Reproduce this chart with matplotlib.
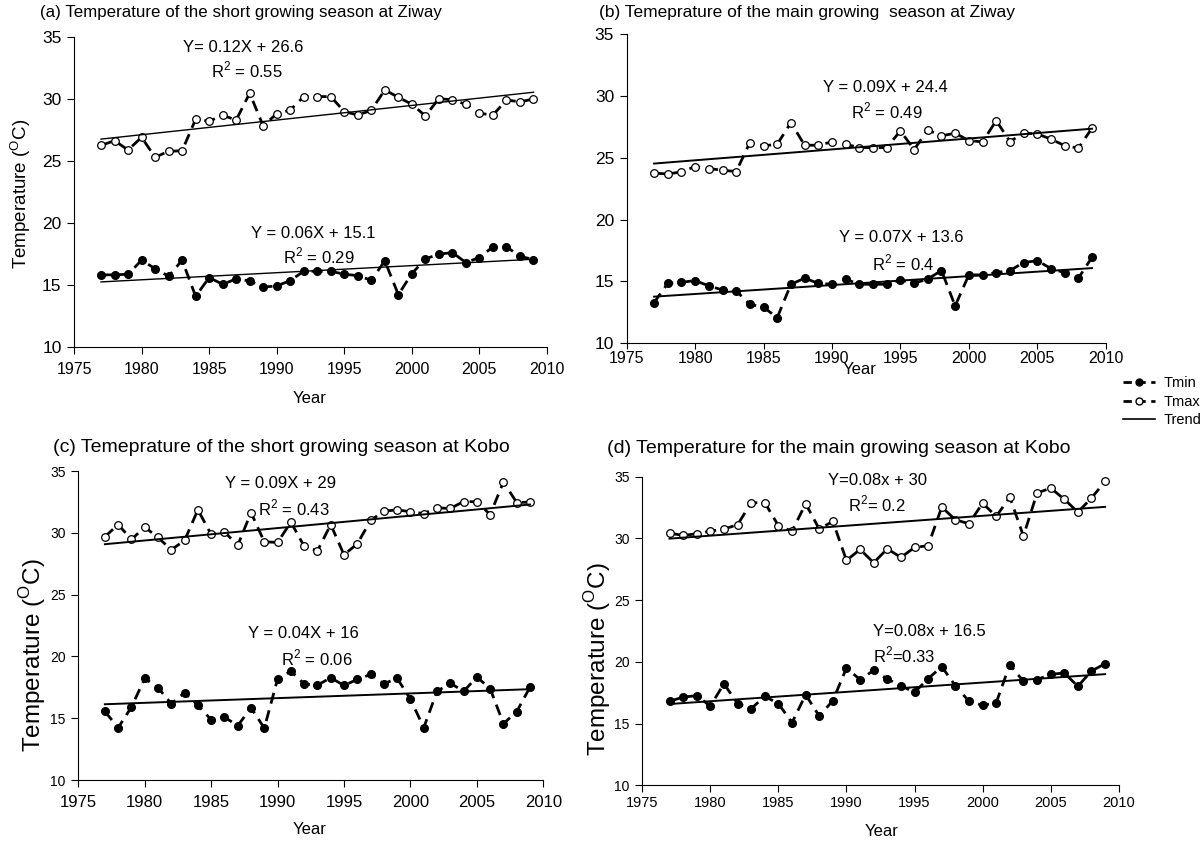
import matplotlib
matplotlib.use("Agg")
import matplotlib.pyplot as plt
import numpy as np
from matplotlib.lines import Line2D

plt.rcParams["font.family"] = ["Liberation Sans", "DejaVu Sans"]
plt.rcParams["mathtext.fontset"] = "custom"
plt.rcParams["mathtext.rm"] = "Liberation Sans"

years = np.arange(1977, 2010)

# (a) short growing season, Ziway
ziway_short_tmax = [26.25, 26.63, 25.88, 26.9, 25.3, 25.77, 25.82, 28.36, 28.2, 28.68, 28.3,
                    30.46, 27.82, 28.81, 29.1, 30.19, 30.19, 30.19, 28.98, 28.7, 29.08, 30.73,
                    30.13, 29.57, 28.63, 30.03, 29.92, 29.57, 28.84, 28.7, 29.92, 29.76, 30.0]
ziway_short_tmin = [15.8, 15.8, 15.85, 16.98, 16.3, 15.69, 16.98, 14.07, 15.58, 15.04, 15.47,
                    15.31, 14.82, 14.9, 15.34, 16.09, 16.09, 16.09, 15.85, 15.74, 15.36, 16.93,
                    14.2, 15.9, 17.09, 17.47, 17.6, 16.79, 17.2, 18.06, 18.06, 17.3, 17.03]

# (b) main growing season, Ziway
ziway_main_tmax = [23.75, 23.69, 23.85, 24.29, 24.12, 23.99, 23.88, 26.23, 25.96, 26.09, 27.84,
                   26.01, 26.01, 26.28, 26.09, 25.82, 25.82, 25.82, 27.17, 25.66, 27.25, 26.77,
                   26.98, 26.39, 26.28, 28.0, 26.31, 26.98, 26.93, 26.5, 25.98, 25.77, 27.39]
ziway_main_tmin = [13.29, 14.85, 14.93, 15.07, 14.64, 14.31, 14.23, 13.15, 12.91, 12.08, 14.77,
                   15.26, 14.85, 14.77, 15.18, 14.77, 14.77, 14.77, 15.12, 14.85, 15.2, 15.88,
                   13.02, 15.53, 15.53, 15.71, 15.88, 16.52, 16.68, 16.04, 15.71, 15.26, 16.95]

# (c) short growing season, Kobo
kobo_short_tmax = [29.68, 30.67, 29.46, 30.46, 29.62, 28.63, 29.38, 31.86, 29.87, 30.08, 28.98,
                   31.64, 29.27, 29.22, 30.86, 28.92, 28.54, 30.67, 28.22, 29.11, 31.0, 31.75,
                   31.86, 31.7, 31.56, 32.02, 31.97, 32.53, 32.51, 31.48, 34.1, 32.45, 32.48]
kobo_short_tmin = [15.55, 14.23, 15.9, 18.22, 17.47, 16.17, 17.06, 16.04, 14.88, 15.09, 14.39,
                   15.85, 14.2, 18.17, 18.81, 17.76, 17.68, 18.27, 17.65, 18.14, 18.54, 17.79,
                   18.22, 16.55, 14.23, 17.17, 17.84, 17.17, 18.33, 17.39, 14.56, 15.53, 17.52]

# (d) main growing season, Kobo
kobo_main_tmax = [30.43, 30.24, 30.38, 30.59, 30.76, 31.11, 32.89, 32.89, 31.03, 30.59, 32.81,
                  30.76, 31.38, 28.22, 29.11, 28.03, 29.16, 28.46, 29.27, 29.41, 32.54, 31.51,
                  31.19, 32.86, 31.78, 33.35, 30.19, 33.67, 34.08, 33.18, 32.13, 33.27, 34.62]
kobo_main_tmin = [16.8, 17.15, 17.26, 16.42, 18.23, 16.61, 16.21, 17.21, 16.61, 15.07, 17.34,
                  15.61, 16.86, 19.5, 18.56, 19.31, 18.61, 18.07, 17.53, 18.64, 19.61, 18.07,
                  16.8, 16.48, 16.69, 19.77, 18.42, 18.56, 18.99, 19.1, 18.02, 19.26, 19.85]

titles = [
    "(a) Temperature of the short growing season at Ziway",
    "(b) Temeprature of the main growing  season at Ziway",
    "(c) Temeprature of the short growing season at Kobo",
    "(d) Temperature for the main growing season at Kobo",
]
eq_tmax = ["Y= 0.12X + 26.6", "Y = 0.09X + 24.4", "Y = 0.09X + 29", "Y=0.08x + 30"]
r2_tmax = ["R$^2$ = 0.55", "R$^2$ = 0.49", "R$^2$ = 0.43", "R$^2$= 0.2"]
eq_tmin = ["Y = 0.06X + 15.1", "Y = 0.07X + 13.6", "Y = 0.04X + 16", "Y=0.08x + 16.5"]
r2_tmin = ["R$^2$ = 0.29", "R$^2$ = 0.4", "R$^2$ = 0.06", "R$^2$=0.33"]

W, H = 1203, 843


def fx(x):
    return x / W


def fy(y):
    return 1 - y / H


def box(left, right, top, bottom):
    return [fx(left), fy(bottom), fx(right) - fx(left), (bottom - top) / H]


fig = plt.figure(figsize=(W / 100, H / 100), dpi=100)

axes_boxes = [box(74, 547, 37, 346.7), box(626.7, 1105.7, 34, 343.3),
              box(78.3, 543.3, 471, 780), box(642.3, 1118.7, 476.7, 785.3)]
panels = [(ziway_short_tmax, ziway_short_tmin), (ziway_main_tmax, ziway_main_tmin),
          (kobo_short_tmax, kobo_short_tmin), (kobo_main_tmax, kobo_main_tmin)]
ytick_size = [12.5, 12.5, 10, 10]
xtick_size = [11.5, 11.5, 12, 10.5]
xtick_pad = [6, 1.5, 6, 3]
xtick_len = [5, 4, 5, 5]
trend_lw = [1.0, 1.4, 1.4, 1.4]

for i, (tmax, tmin) in enumerate(panels):
    ax = fig.add_axes(axes_boxes[i])
    ax.plot(years, tmax, ls=(0, (4, 2.5)), lw=2, color="black", marker="o", ms=5.5,
            mfc="white", mec="black", mew=0.9)
    ax.plot(years, tmin, ls=(0, (4, 2.5)), lw=2, color="black", marker="o", ms=5.5,
            mfc="black", mec="black")
    for series in (tmax, tmin):
        k, b = np.polyfit(years, series, 1)
        ax.plot(years[[0, -1]], k * years[[0, -1]] + b, color="black", lw=trend_lw[i])
    ax.set_xlim(1975, 2010)
    ax.set_ylim(10, 35)
    ax.set_xticks(range(1975, 2011, 5))
    ax.set_yticks(range(10, 36, 5))
    ax.spines["top"].set_visible(False)
    ax.spines["right"].set_visible(False)
    ax.tick_params(axis="y", labelsize=ytick_size[i], length=5, width=0.8, pad=4)
    ax.tick_params(axis="x", labelsize=xtick_size[i], length=xtick_len[i], width=0.8,
                   pad=xtick_pad[i])

# titles
fig.text(fx(40), fy(13), titles[0], fontsize=12.2, va="center")
fig.text(fx(599), fy(13), titles[1], fontsize=12.5, va="center")
fig.text(fx(53), fy(448), titles[2], fontsize=14, va="center")
fig.text(fx(607), fy(449), titles[3], fontsize=14, va="center")

# y labels
ylab = "Temperature ($^{\\mathrm{O}}$C)"
fig.text(fx(21), fy(194), ylab, fontsize=13.5, rotation=90, ha="center", va="center")
fig.text(fx(33), fy(655), ylab, fontsize=17.5, rotation=90, ha="center", va="center")
fig.text(fx(598), fy(659), ylab, fontsize=17.5, rotation=90, ha="center", va="center")

# x labels
fig.text(fx(310), fy(398), "Year", fontsize=12, ha="center", va="center")
fig.text(fx(860), fy(369), "Year", fontsize=12, ha="center", va="center")
fig.text(fx(310), fy(830), "Year", fontsize=12, ha="center", va="center")
fig.text(fx(882), fy(832), "Year", fontsize=12, ha="center", va="center")

# trend equations
eq_pos = [((243, 47), (247, 70), (313, 233), (319, 256)),
          ((885, 88), (887, 111), (901, 238), (903, 263)),
          ((281, 483), (294, 508), (303, 634), (317, 658)),
          ((878, 480), (877, 504), (929, 631), (904, 655))]
for i in range(4):
    p = eq_pos[i]
    fig.text(fx(p[0][0]), fy(p[0][1]), eq_tmax[i], fontsize=12, ha="center", va="center")
    fig.text(fx(p[1][0]), fy(p[1][1]), r2_tmax[i], fontsize=12, ha="center", va="center")
    fig.text(fx(p[2][0]), fy(p[2][1]), eq_tmin[i], fontsize=12, ha="center", va="center")
    fig.text(fx(p[3][0]), fy(p[3][1]), r2_tmin[i], fontsize=12, ha="center", va="center")

handles = [
    Line2D([], [], ls=(0, (3, 2)), lw=2, color="black", marker="o", ms=5, mfc="black"),
    Line2D([], [], ls=(0, (3, 2)), lw=2, color="black", marker="o", ms=5, mfc="white"),
    Line2D([], [], lw=1.2, color="black"),
]
fig.legend(handles, ["Tmin", "Tmax", "Trend"], loc="upper left",
           bbox_to_anchor=(fx(1116), fy(369)), frameon=False, fontsize=10.5,
           handlelength=2.2, labelspacing=0.3, borderpad=0, handletextpad=0.6)

fig.savefig("out.png", dpi=100)
